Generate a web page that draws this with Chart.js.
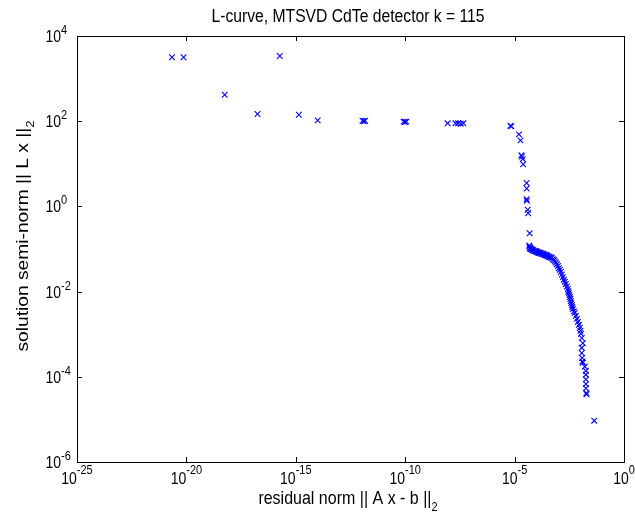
<!DOCTYPE html>
<html>
<head>
<meta charset="utf-8">
<script src="https://cdn.jsdelivr.net/npm/chart.js@4/dist/chart.umd.min.js"></script>
<style>
html,body{margin:0;padding:0;background:#fff;}
canvas{display:block;}
</style>
</head>
<body>
<canvas id="c" width="635" height="518"></canvas>
<script>
// Data (log10 of the values)
const logResidual = [
 -20.66,-20.13,-18.25,-16.75,-15.73,-14.86,-14.00,
 -11.95,-11.89,-11.83,-10.07,-10.01,-9.95,-8.06,
 -7.70,-7.58,-7.46,-7.34,-5.19,-5.15,-4.80,-4.73,
 -4.69,-4.66,-4.63,-4.61,-4.45,-4.45,-4.45,-4.44,-4.40,-4.38,-4.31,-4.33,-4.32,
 -4.30,-4.28,-4.25,-4.21,-4.18,-4.16,-4.12,-4.07,-4.03,-4.00,-3.98,-3.93,-3.89,-3.86,-3.84,-3.80,-3.75,
 -3.71,-3.68,-3.66,-3.61,-3.57,-3.54,-3.52,-3.48,-3.43,-3.39,-3.34,-3.30,-3.25,-3.20,-3.16,-3.11,-3.07,
 -3.02,-2.98,-2.93,-2.89,-2.84,-2.79,-2.75,-2.70,-2.66,-2.61,-2.57,-2.54,-2.52,-2.50,-2.47,-2.45,-2.43,
 -2.41,-2.38,-2.36,-2.34,-2.29,-2.25,-2.20,-2.15,-2.11,-2.06,-2.02,-1.99,-1.97,-1.93,-1.88,-1.93,-1.93,
 -1.91,-1.90,-1.88,-1.79,-1.74,-1.74,-1.74,-1.74,-1.74,-1.72,-1.71,-1.36
];
const logSolution = [
 3.50,3.50,2.62,2.17,3.53,2.15,2.02,
 2.01,2.00,2.01,1.99,1.98,1.99,1.95,
 1.95,1.95,1.94,1.95,1.89,1.88,1.69,1.55,
 1.20,1.17,1.11,0.99,0.55,0.42,0.17,0.13,-0.08,-0.16,-0.63,-0.92,-0.95,
 -0.99,-0.97,-1.00,-1.01,-1.03,-1.02,-1.04,-1.05,-1.06,-1.05,-1.07,-1.08,-1.09,-1.08,-1.10,-1.10,-1.11,
 -1.12,-1.11,-1.13,-1.14,-1.14,-1.16,-1.15,-1.17,-1.18,-1.19,-1.20,-1.21,-1.24,-1.26,-1.29,-1.32,-1.36,
 -1.40,-1.45,-1.49,-1.54,-1.60,-1.66,-1.72,-1.77,-1.82,-1.88,-1.94,-1.99,-2.03,-2.08,-2.13,-2.17,-2.22,
 -2.27,-2.32,-2.36,-2.41,-2.46,-2.50,-2.57,-2.64,-2.71,-2.78,-2.85,-2.92,-2.99,-3.09,-3.21,-3.32,-3.44,
 -3.56,-3.64,-3.67,-3.76,-3.86,-3.95,-4.06,-4.17,-4.27,-4.38,-4.41,-5.03
];
const xTickExponents = [-25,-20,-15,-10,-5,0];
const yTickExponents = [-6,-4,-2,0,2,4];
const titleText = "L-curve, MTSVD CdTe detector k = 115";
const xTitleText = "residual norm || A x - b ||";
const yTitleText = "solution semi-norm || L x ||";

const points = logResidual.map((v,i)=>({x:Math.pow(10,v), y:Math.pow(10,logSolution[i])}));
const FONT = '"Liberation Sans", Arial, sans-serif';
const SY = 1.18; // vertical stretch of the reference's lettering

function txt(ctx, s, x, y, size, align){
  ctx.save();
  ctx.font = size + 'px ' + FONT;
  ctx.textAlign = align || 'left';
  ctx.translate(x, y);
  ctx.scale(1, SY);
  ctx.fillText(s, 0, 0);
  ctx.restore();
}
function tw(ctx, s, size){
  ctx.font = size + 'px ' + FONT;
  return ctx.measureText(s).width;
}

const matlabAxes = {
  id:'matlabAxes',
  afterDraw(chart){
    const ctx = chart.ctx, a = chart.chartArea;
    const xs = chart.scales.x, ys = chart.scales.y;
    ctx.save();
    ctx.strokeStyle = '#000';
    ctx.lineWidth = 1;
    ctx.strokeRect(Math.round(a.left)+0.5, Math.round(a.top)+0.5, Math.round(a.right-a.left), Math.round(a.bottom-a.top));
    ctx.beginPath();
    const tl = 5;
    xTickExponents.forEach(e=>{
      const px = Math.round(xs.getPixelForValue(Math.pow(10,e)))+0.5;
      ctx.moveTo(px, a.bottom); ctx.lineTo(px, a.bottom - tl);
      ctx.moveTo(px, a.top); ctx.lineTo(px, a.top + tl);
    });
    yTickExponents.forEach(e=>{
      const py = Math.round(ys.getPixelForValue(Math.pow(10,e)))+0.5;
      ctx.moveTo(a.left, py); ctx.lineTo(a.left + tl, py);
      ctx.moveTo(a.right, py); ctx.lineTo(a.right - tl, py);
    });
    ctx.stroke();

    ctx.fillStyle = '#000';
    ctx.textBaseline = 'alphabetic';
    // x tick labels
    xTickExponents.forEach(e=>{
      const px = xs.getPixelForValue(Math.pow(10,e));
      const w1 = tw(ctx,'10',14), w2 = tw(ctx,String(e),11);
      const x0 = px - (w1+w2)/2;
      txt(ctx,'10', x0, a.bottom + 22, 14);
      txt(ctx,String(e), x0 + w1, a.bottom + 12, 11);
    });
    // y tick labels
    yTickExponents.forEach(e=>{
      const py = ys.getPixelForValue(Math.pow(10,e));
      txt(ctx,'10', 61, py + 6, 14, 'right');
      txt(ctx,String(e), 61, py - 2, 11, 'left');
    });
    // title
    const cx = 348;
    txt(ctx, titleText, cx, 22, 15.7, 'center');
    // x axis title with subscript
    const wx = tw(ctx, xTitleText, 16), ws = tw(ctx,'2',11);
    let x0 = cx - (wx+ws)/2;
    txt(ctx, xTitleText, x0, 504, 16);
    txt(ctx, '2', x0 + wx, 511, 11);
    // y axis title rotated (stretched along its length)
    ctx.save();
    ctx.translate(28, 236);
    ctx.rotate(-Math.PI/2);
    ctx.scale(1.2, 1);
    ctx.font = '16px ' + FONT;
    ctx.textAlign = 'left';
    const wy = ctx.measureText(yTitleText).width;
    ctx.font = '11px ' + FONT;
    const ws2 = ctx.measureText('2').width;
    x0 = -(wy+ws2)/2;
    ctx.font = '16px ' + FONT;
    ctx.fillText(yTitleText, x0, 0);
    ctx.font = '11px ' + FONT;
    ctx.fillText('2', x0 + wy, 6);
    ctx.restore();
    ctx.restore();
  }
};

new Chart(document.getElementById('c'), {
  type:'scatter',
  data:{datasets:[{
    data: points,
    pointStyle:'crossRot',
    pointRadius:4,
    pointHoverRadius:4,
    borderColor:'#0000ff',
    backgroundColor:'#0000ff',
    pointBorderWidth:1.1,
    showLine:false
  }]},
  options:{
    responsive:false,
    animation:false,
    devicePixelRatio:1,
    layout:{padding:{left:77, top:36, right:11, bottom:56}},
    plugins:{legend:{display:false}, tooltip:{enabled:false}, title:{display:false}},
    scales:{
      x:{type:'logarithmic', min:1e-25, max:1, display:false},
      y:{type:'logarithmic', min:1e-6, max:1e4, display:false}
    }
  },
  plugins:[matlabAxes]
});
</script>
</body>
</html>
